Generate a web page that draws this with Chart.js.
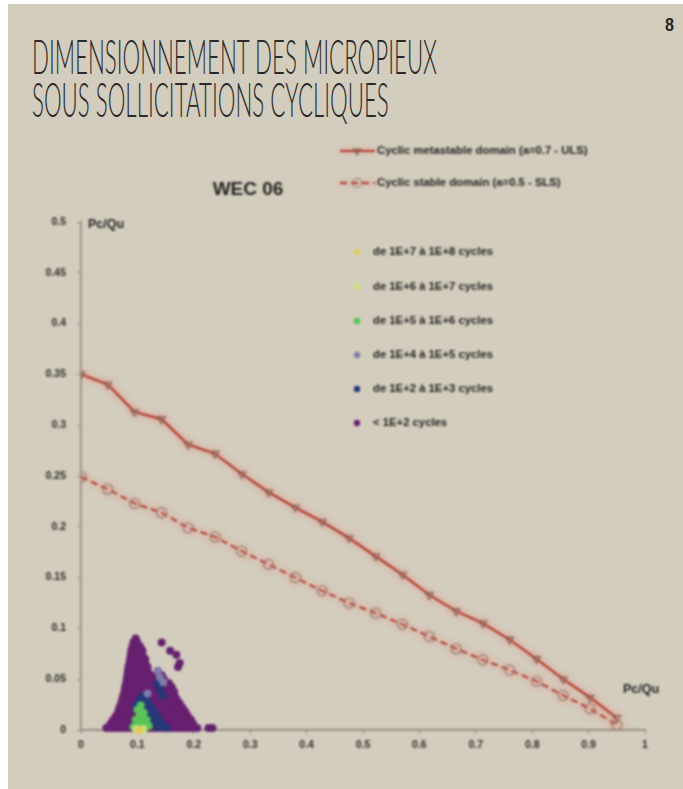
<!DOCTYPE html>
<html>
<head>
<meta charset="utf-8">
<script src="https://cdn.jsdelivr.net/npm/chart.js@4/dist/chart.umd.min.js"></script>
<style>
  html, body { margin: 0; padding: 0; background: #ffffff; }
  #page { position: relative; width: 683px; height: 789px; overflow: hidden; background: #ffffff; }
  #panel { position: absolute; left: 8px; top: 4px; right: 0; bottom: 0; background: #d3cdbd; }
  #chart { position: absolute; left: 0; top: 0; filter: blur(0.85px); }
  .head {
    position: absolute; left: 32px; margin: 0;
    font-family: Lato, "Open Sans", Roboto, sans-serif; font-weight: 300;
    font-size: 48px; line-height: 1; color: #2a2a2a;
    white-space: nowrap; transform-origin: 0 0;
  }
  #pageno {
    position: absolute; left: 665px; top: 15px; margin: 0;
    font-family: "Liberation Sans", Arial, sans-serif; font-weight: 700;
    font-size: 19px; line-height: 1; color: #262626;
    transform: scaleX(0.85); transform-origin: 0 0;
  }
</style>
</head>
<body>
<div id="page">
  <div id="panel"></div>
  <div class="head" id="head1" style="top:32px">DIMENSIONNEMENT DES MICROPIEUX</div>
  <div class="head" id="head2" style="top:75px">SOUS SOLLICITATIONS CYCLIQUES</div>
  <div id="pageno">8</div>
  <canvas id="chart" width="683" height="789"></canvas>
</div>
<script>
// Pc/Qu positions shared by both domain boundaries
const domainX = [0, 0.0475, 0.095, 0.1425, 0.19, 0.2375, 0.285, 0.3325, 0.38, 0.4275, 0.475,
                 0.5225, 0.57, 0.6175, 0.665, 0.7125, 0.76, 0.8075, 0.855, 0.9025, 0.95];
// Cyclic metastable domain (a=0.7 - ULS)
const metastableY = [0.350, 0.340, 0.313, 0.306, 0.281, 0.272, 0.252, 0.234, 0.219, 0.205, 0.189,
                     0.171, 0.153, 0.133, 0.117, 0.105, 0.089, 0.070, 0.050, 0.032, 0.012];
// Cyclic stable domain (a=0.5 - SLS)
const stableY = [0.249, 0.237, 0.223, 0.214, 0.199, 0.190, 0.176, 0.163, 0.150, 0.137, 0.125,
                 0.115, 0.104, 0.092, 0.080, 0.069, 0.059, 0.048, 0.034, 0.021, 0.005];

// Axis tick labels
const xTicks = [0, 0.1, 0.2, 0.3, 0.4, 0.5, 0.6, 0.7, 0.8, 0.9, 1];
const yTicks = [0, 0.05, 0.1, 0.15, 0.2, 0.25, 0.3, 0.35, 0.4, 0.45, 0.5];

// Test results with fewer than 1E+2 cycles: rows of [Pc/Qu (y), list of Pc/Qu (x)]
const under1e2Rows = [
  [0.090, [0.097]],
  [0.086, [0.093, 0.100, 0.143]],
  [0.082, [0.091, 0.098, 0.105]],
  [0.078, [0.089, 0.096, 0.103, 0.109, 0.158]],
  [0.074, [0.088, 0.095, 0.102, 0.109, 0.169]],
  [0.070, [0.087, 0.094, 0.101, 0.108, 0.114]],
  [0.066, [0.086, 0.093, 0.100, 0.107, 0.114, 0.175]],
  [0.062, [0.084, 0.091, 0.098, 0.105, 0.112, 0.118, 0.172]],
  [0.058, [0.083, 0.090, 0.097, 0.104, 0.111, 0.118, 0.136]],
  [0.054, [0.082, 0.089, 0.096, 0.103, 0.110, 0.117, 0.124, 0.137, 0.143]],
  [0.050, [0.081, 0.088, 0.095, 0.102, 0.109, 0.116, 0.123, 0.128, 0.140, 0.147]],
  [0.046, [0.080, 0.087, 0.094, 0.101, 0.108, 0.115, 0.122, 0.129, 0.136, 0.143, 0.150, 0.156]],
  [0.042, [0.078, 0.085, 0.092, 0.099, 0.106, 0.113, 0.120, 0.127, 0.134, 0.141, 0.148, 0.155, 0.161]],
  [0.038, [0.077, 0.084, 0.091, 0.098, 0.105, 0.112, 0.119, 0.126, 0.133, 0.140, 0.147, 0.154, 0.161, 0.165]],
  [0.034, [0.075, 0.082, 0.089, 0.096, 0.103, 0.110, 0.117, 0.124, 0.131, 0.138, 0.145, 0.152, 0.159, 0.166]],
  [0.030, [0.073, 0.080, 0.087, 0.094, 0.101, 0.108, 0.115, 0.122, 0.129, 0.136, 0.143, 0.150, 0.157, 0.164, 0.170]],
  [0.026, [0.071, 0.078, 0.085, 0.092, 0.099, 0.106, 0.113, 0.120, 0.127, 0.134, 0.141, 0.148, 0.155, 0.162, 0.169, 0.175]],
  [0.022, [0.068, 0.075, 0.082, 0.089, 0.096, 0.103, 0.110, 0.117, 0.124, 0.131, 0.138, 0.145, 0.152, 0.159, 0.166, 0.173, 0.180]],
  [0.018, [0.066, 0.073, 0.080, 0.087, 0.094, 0.101, 0.108, 0.115, 0.122, 0.129, 0.136, 0.143, 0.150, 0.157, 0.164, 0.171, 0.178, 0.185]],
  [0.014, [0.062, 0.069, 0.076, 0.083, 0.090, 0.097, 0.104, 0.111, 0.118, 0.125, 0.132, 0.139, 0.146, 0.153, 0.160, 0.167, 0.174, 0.181, 0.189]],
  [0.010, [0.057, 0.064, 0.071, 0.078, 0.085, 0.092, 0.099, 0.106, 0.113, 0.120, 0.127, 0.134, 0.141, 0.148, 0.155, 0.162, 0.169, 0.176, 0.183, 0.190, 0.195]],
  [0.006, [0.052, 0.059, 0.066, 0.073, 0.080, 0.087, 0.094, 0.101, 0.108, 0.115, 0.122, 0.129, 0.136, 0.143, 0.150, 0.157, 0.164, 0.171, 0.178, 0.185, 0.192, 0.199]],
  [0.002, [0.045, 0.052, 0.059, 0.066, 0.073, 0.080, 0.087, 0.094, 0.101, 0.108, 0.115, 0.122, 0.129, 0.136, 0.143, 0.150, 0.157, 0.164, 0.171, 0.178, 0.185, 0.192, 0.199, 0.206, 0.226, 0.233]]
];
// Other cycle classes as [x, y] pairs
const from1e2to1e3 = [[0.104, 0.030], [0.110, 0.034], [0.116, 0.029], [0.122, 0.024], [0.128, 0.019],
                      [0.134, 0.014], [0.140, 0.009], [0.146, 0.004], [0.112, 0.022], [0.120, 0.013],
                      [0.128, 0.007], [0.136, 0.003], [0.098, 0.024], [0.135, 0.046], [0.140, 0.040],
                      [0.145, 0.034], [0.152, 0.002]];
const from1e4to1e5 = [[0.136, 0.058], [0.140, 0.052], [0.146, 0.047], [0.118, 0.036]];
const from1e5to1e6 = [[0.100, 0.020], [0.106, 0.024], [0.104, 0.014], [0.111, 0.017], [0.097, 0.010],
                      [0.108, 0.008], [0.116, 0.010], [0.101, 0.004], [0.093, 0.003], [0.113, 0.002],
                      [0.120, 0.004]];
const from1e6to1e7 = [[0.098, 0.001], [0.105, 0.000], [0.110, 0.001]];
const from1e7to1e8 = [[0.103, 0.000]];

const toPoints = pairs => pairs.map(p => ({ x: p[0], y: p[1] }));
const rowsToPoints = rows => rows.flatMap(r => r[1].map(x => ({ x: x, y: r[0] })));

const LINE_RED = '#b0392b';
const GLOW = 'rgba(240, 125, 115, 0.95)';
const scatterBase = { showLine: false, pointRadius: 4, pointBorderWidth: 0, clip: false };

const datasets = [
  {
    label: 'Cyclic metastable domain (a=0.7 - ULS)',
    data: domainX.map((x, i) => ({ x: x, y: metastableY[i] })),
    showLine: true, borderColor: LINE_RED, borderWidth: 2.2, tension: 0,
    pointStyle: 'triangle', pointRotation: 180, pointRadius: 4.5,
    pointBorderColor: '#6f6357', pointBackgroundColor: 'rgba(0,0,0,0)', pointBorderWidth: 1.1,
    glow: true, legendY: 151
  },
  {
    label: 'Cyclic stable domain (a=0.5 - SLS)',
    data: domainX.map((x, i) => ({ x: x, y: stableY[i] })),
    showLine: true, borderColor: LINE_RED, borderWidth: 2, borderDash: [7, 4], tension: 0,
    pointStyle: 'circle', pointRadius: 5,
    pointBorderColor: '#857a6e', pointBackgroundColor: 'rgba(0,0,0,0)', pointBorderWidth: 1.1,
    glow: true, legendY: 183
  },
  Object.assign({ label: 'de 1E+7 à 1E+8 cycles', data: toPoints(from1e7to1e8),
                  pointBackgroundColor: '#e2cc5c', legendY: 252 }, scatterBase),
  Object.assign({ label: 'de 1E+6 à 1E+7 cycles', data: toPoints(from1e6to1e7),
                  pointBackgroundColor: '#cfe07c', legendY: 287 }, scatterBase),
  Object.assign({ label: 'de 1E+5 à 1E+6 cycles', data: toPoints(from1e5to1e6),
                  pointBackgroundColor: '#58c458', legendY: 321 }, scatterBase),
  Object.assign({ label: 'de 1E+4 à 1E+5 cycles', data: toPoints(from1e4to1e5),
                  pointBackgroundColor: '#7f7ba8', legendY: 355 }, scatterBase),
  Object.assign({ label: 'de 1E+2 à 1E+3 cycles', data: toPoints(from1e2to1e3),
                  pointBackgroundColor: '#24397a', legendY: 389 }, scatterBase),
  Object.assign({ label: '< 1E+2 cycles', data: rowsToPoints(under1e2Rows),
                  pointBackgroundColor: '#66206f', legendY: 423 }, scatterBase)
];

// Soft reddish halo around the two domain lines
const glowPlugin = {
  id: 'glow',
  beforeDatasetDraw(chart, args) {
    const ds = chart.data.datasets[args.index];
    if (!ds.glow) return;
    const ctx = chart.ctx;
    ctx.save();
    ctx.shadowColor = GLOW;
    ctx.shadowBlur = 6;
  },
  afterDatasetDraw(chart, args) {
    const ds = chart.data.datasets[args.index];
    if (ds.glow) chart.ctx.restore();
  }
};

// Title, axis names and the legend block
const labelsPlugin = {
  id: 'labels',
  afterDraw(chart) {
    const ctx = chart.ctx;
    const area = chart.chartArea;
    ctx.save();
    ctx.fillStyle = '#222222';
    ctx.textBaseline = 'middle';

    ctx.font = 'bold 19px "Liberation Sans", Arial, sans-serif';
    ctx.textAlign = 'center';
    ctx.fillText('WEC 06', 248, 190);

    ctx.font = 'bold 12.5px "Liberation Sans", Arial, sans-serif';
    ctx.textAlign = 'left';
    ctx.fillText('Pc/Qu', area.left + 7, area.top + 3);
    ctx.textAlign = 'center';
    ctx.fillText('Pc/Qu', area.right - 4, area.bottom - 40);

    // legend entries
    ctx.font = 'bold 11.3px "Liberation Sans", Arial, sans-serif';
    ctx.textAlign = 'left';
    chart.data.datasets.forEach(ds => {
      const y = ds.legendY;
      if (ds.showLine) {
        ctx.save();
        ctx.strokeStyle = ds.borderColor;
        ctx.lineWidth = ds.borderWidth;
        ctx.shadowColor = GLOW;
        ctx.shadowBlur = 5;
        ctx.setLineDash(ds.borderDash || []);
        ctx.beginPath(); ctx.moveTo(340, y); ctx.lineTo(375, y); ctx.stroke();
        ctx.restore();
        ctx.save();
        ctx.strokeStyle = ds.pointBorderColor;
        ctx.fillStyle = 'rgba(0,0,0,0)';
        ctx.lineWidth = ds.pointBorderWidth;
        Chart.helpers.drawPoint(ctx, {
          pointStyle: ds.pointStyle, rotation: ds.pointRotation || 0,
          radius: ds.pointRadius * 0.9, borderWidth: ds.pointBorderWidth
        }, 357, y);
        ctx.restore();
        ctx.fillStyle = '#222222';
        ctx.fillText(ds.label, 377, y);
      } else {
        ctx.beginPath();
        ctx.fillStyle = ds.pointBackgroundColor;
        ctx.arc(357, y, 3.2, 0, Math.PI * 2);
        ctx.fill();
        ctx.fillStyle = '#222222';
        ctx.fillText(ds.label, 373, y);
      }
    });
    ctx.restore();
  }
};

const axisColor = '#8f897c';
const tickFont = { family: '"Liberation Sans", Arial, sans-serif', size: 10.5, weight: 'bold' };
const tickText = v => String(Number(v.toFixed(2)));

new Chart(document.getElementById('chart'), {
  type: 'scatter',
  data: { datasets: datasets },
  options: {
    responsive: false,
    animation: false,
    devicePixelRatio: 1,
    layout: { padding: { top: 222, right: 38, bottom: 29, left: 0 } },
    plugins: { legend: { display: false }, tooltip: { enabled: false }, title: { display: false } },
    scales: {
      x: {
        type: 'linear', min: 0, max: 1,
        afterBuildTicks: s => { s.ticks = xTicks.map(v => ({ value: v })); },
        afterFit: s => { s.height = 30; },
        grid: { display: true, drawOnChartArea: false, tickLength: 4, color: axisColor, lineWidth: 1 },
        border: { display: true, color: axisColor, width: 1.8 },
        ticks: { color: '#2e2c28', font: tickFont, padding: 5, maxRotation: 0, callback: tickText }
      },
      y: {
        type: 'linear', min: 0, max: 0.5,
        afterBuildTicks: s => { s.ticks = yTicks.map(v => ({ value: v })); },
        afterFit: s => { s.width = 81; },
        grid: { display: true, drawOnChartArea: false, tickLength: 4, color: axisColor, lineWidth: 1 },
        border: { display: true, color: axisColor, width: 1.6 },
        ticks: { color: '#2e2c28', font: tickFont, padding: 11, callback: tickText }
      }
    }
  },
  plugins: [glowPlugin, labelsPlugin]
});

// Condensed header lines: same horizontal squeeze for both lines
function fitHeader() {
  const h1 = document.getElementById('head1');
  const h2 = document.getElementById('head2');
  h1.style.transform = 'none';
  const k = 405 / h1.getBoundingClientRect().width;
  h1.style.transform = 'scaleX(' + k + ')';
  h2.style.transform = 'scaleX(' + k + ')';
}
fitHeader();
if (document.fonts && document.fonts.ready) document.fonts.ready.then(fitHeader);
</script>
</body>
</html>
